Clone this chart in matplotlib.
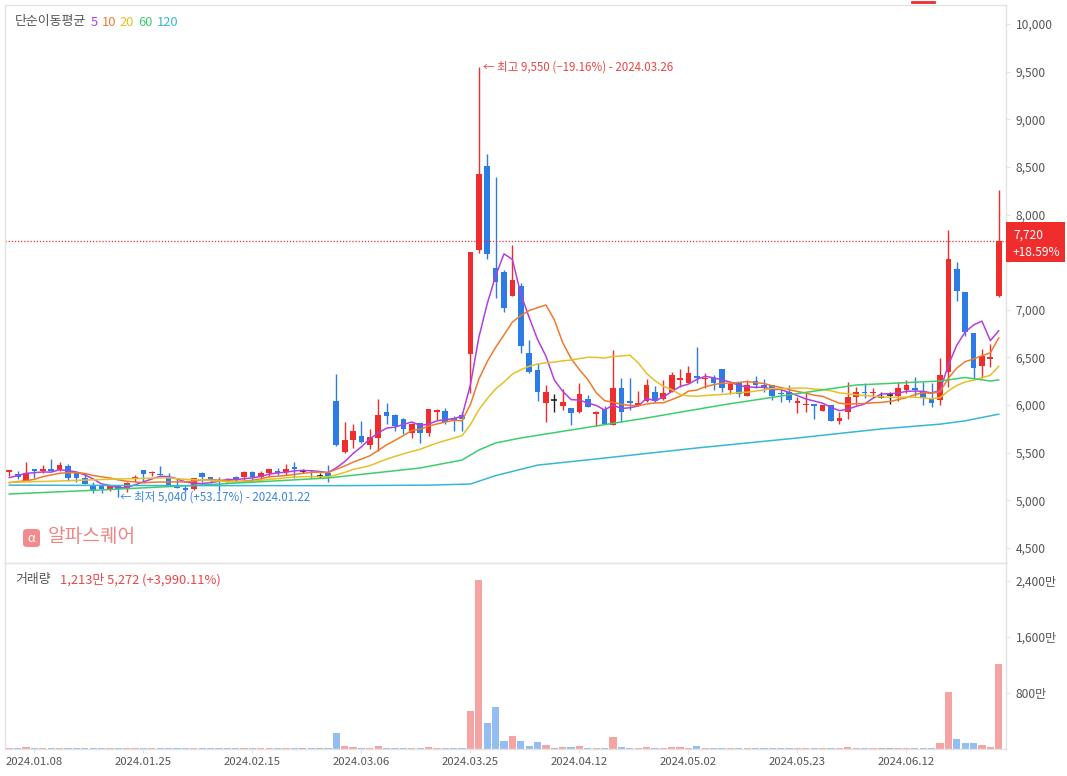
import matplotlib
matplotlib.use('Agg')
import matplotlib.pyplot as plt
from matplotlib.patches import FancyBboxPatch
import numpy as np

plt.rcParams['font.family'] = ['Noto Sans CJK KR', 'DejaVu Sans']

W, H = 1067, 776

# daily candles, index 0 = 2024.01.03 ... 118 = 2024.06.27
opens = [5300, 5275, 5207, 5326, 5310, 5326, 5319, 5365, 5290, 5240,
         5160, 5155, 5115, 5155, 5115, 5230, 5319, 5285, 5282, 5250,
         5140, 5128, 5120, 5285, 5250, 5215, 5215, 5250, 5250, 5295,
         5250, 5285, 5310, 5300, 5355, 5310, 5320, 5255, 5290, 6045,
         5512, 5634, 5676, 5582, 5659, 5925, 5897, 5851, 5711, 5816,
         5711, 5932, 5939, 5862, 5897, 6537, 7630, 8510, 7436, 7401,
         7149, 7250, 6544, 6369, 6026, 6054, 5991, 5967, 5931, 6060,
         5907, 5956, 5791, 6176, 6043, 6001, 6046, 6141, 6060, 6141,
         6263, 6235, 6305, 6270, 6288, 6375, 6158, 6235, 6099, 6253,
         6211, 6211, 6130, 6141, 6018, 6000, 6011, 5942, 6000, 5837,
         5931, 6088, 6141, 6123, 6088, 6106, 6095, 6158, 6176, 6142,
         6065, 6050, 6352, 7426, 7184, 6754, 6411, 6485, 7149]
highs = [5320, 5310, 5403, 5326, 5375, 5435, 5400, 5380, 5290, 5290,
         5195, 5160, 5160, 5160, 5190, 5265, 5320, 5310, 5365, 5290,
         5225, 5160, 5235, 5300, 5250, 5250, 5240, 5255, 5305, 5305,
         5305, 5325, 5345, 5380, 5400, 5330, 5320, 5290, 5370, 6327,
         5827, 5802, 5834, 5750, 6065, 6026, 5907, 5862, 5809, 5816,
         5960, 5956, 5974, 5886, 5925, 7610, 9550, 8636, 8398, 7418,
         7681, 7278, 6684, 6439, 6212, 6117, 6166, 5967, 6228, 6106,
         5942, 5991, 6578, 6281, 6281, 6151, 6270, 6200, 6263, 6351,
         6375, 6410, 6613, 6340, 6316, 6375, 6246, 6246, 6263, 6305,
         6270, 6211, 6176, 6211, 6088, 6130, 6011, 6001, 6001, 5931,
         6246, 6186, 6235, 6176, 6141, 6141, 6246, 6263, 6298, 6246,
         6236, 6492, 7838, 7506, 7184, 6754, 6586, 6642, 8258]
lows = [5255, 5220, 5200, 5240, 5284, 5310, 5310, 5207, 5190, 5170,
        5080, 5075, 5095, 5040, 5090, 5190, 5190, 5255, 5262, 5165,
        5125, 5090, 5110, 5190, 5190, 5100, 5180, 5195, 5215, 5200,
        5200, 5250, 5265, 5265, 5230, 5285, 5240, 5240, 5190, 5575,
        5502, 5547, 5606, 5537, 5523, 5802, 5732, 5697, 5652, 5606,
        5680, 5844, 5799, 5732, 5732, 6125, 7600, 7530, 7121, 6981,
        7149, 6544, 6341, 6047, 5827, 5932, 5949, 5792, 5921, 5977,
        5781, 5798, 5791, 5826, 5949, 5991, 6036, 6026, 6053, 6141,
        6193, 6228, 6228, 6176, 6158, 6141, 6116, 6088, 6099, 6176,
        6141, 6053, 6036, 6036, 5913, 5931, 5851, 5942, 5837, 5802,
        5851, 6001, 6071, 6071, 6071, 6011, 6046, 6123, 6095, 6001,
        5984, 6002, 6194, 7097, 6730, 6271, 6282, 6404, 7139]
closes = [5320, 5250, 5284, 5312, 5326, 5312, 5375, 5240, 5240, 5172,
          5100, 5115, 5155, 5115, 5186, 5245, 5275, 5300, 5262, 5165,
          5130, 5110, 5235, 5245, 5210, 5205, 5205, 5225, 5295, 5250,
          5285, 5325, 5290, 5325, 5325, 5310, 5305, 5255, 5260, 5580,
          5634, 5729, 5613, 5669, 5897, 5886, 5781, 5750, 5802, 5711,
          5960, 5949, 5820, 5844, 5855, 7610, 8430, 7586, 7296, 7016,
          7313, 6624, 6351, 6142, 6142, 6054, 6037, 5914, 6116, 5984,
          5931, 5798, 6176, 5931, 6026, 6019, 6211, 6043, 6123, 6316,
          6281, 6340, 6288, 6288, 6235, 6176, 6221, 6113, 6211, 6211,
          6186, 6099, 6113, 6053, 6046, 6011, 5991, 6001, 5837, 5868,
          6088, 6141, 6123, 6141, 6088, 6106, 6176, 6211, 6158, 6072,
          6019, 6317, 7534, 7202, 6764, 6387, 6520, 6510, 7720]
# volume in 만 (10,000 shares)
volumes = [14, 12, 22, 12, 14, 16, 18, 14, 10, 12,
           16, 12, 10, 14, 18, 20, 16, 10, 12, 14,
           10, 10, 20, 12, 10, 14, 10, 10, 14, 12,
           12, 14, 12, 14, 16, 8, 10, 8, 14, 221,
           35, 25, 20, 15, 35, 20, 15, 12, 15, 12,
           25, 15, 15, 12, 15, 543, 2414, 371, 600, 114,
           190, 114, 48, 100, 62, 16, 33, 33, 48, 16,
           16, 10, 176, 33, 16, 16, 30, 20, 18, 25,
           22, 20, 40, 15, 18, 20, 15, 14, 15, 12,
           12, 14, 12, 12, 14, 16, 14, 12, 18, 12,
           25, 20, 14, 12, 10, 12, 16, 18, 14, 12,
           15, 83, 811, 136, 79, 79, 50, 29.7, 1213.5]

# MA lines for the part before enough history is shown
ma5_head = [5239, 5260, 5284, 5291]
ma10_head = [5186, 5197, 5207, 5221, 5249, 5267, 5284, 5291, 5291]
ma20_head = [5190, 5192, 5194, 5197, 5199, 5201, 5204, 5207, 5210, 5213,
             5216, 5219, 5222, 5225, 5227, 5229, 5231, 5234, 5236]
ma60_idx = [0, 11, 23, 38, 49, 54, 56, 58, 61, 70, 76, 85, 92, 101, 111, 114, 117, 118]
ma60_val = [5067, 5110, 5162, 5235, 5340, 5424, 5529, 5603, 5655, 5781,
            5865, 6001, 6095, 6211, 6253, 6290, 6253, 6264]
ma120_idx = [0, 20, 40, 50, 55, 58, 63, 70, 82, 94, 104, 111, 114, 118]
ma120_val = [5160, 5155, 5155, 5160, 5172, 5260, 5370, 5435, 5550, 5655,
             5750, 5800, 5835, 5905]

date_idx = [3, 16, 29, 42, 55, 68, 81, 94, 107]
date_labels = ['2024.01.08', '2024.01.25', '2024.02.15', '2024.03.06', '2024.03.25',
               '2024.04.12', '2024.05.02', '2024.05.23', '2024.06.12']

RED, BLUE = '#ef2d2d', '#2d7be5'
VRED, VBLUE, VGRAY = '#f5a3a3', '#94bdf3', '#b0b0b0'
MA_COLORS = {5: '#b43fe0', 10: '#ef7a2c', 20: '#e6c125', 60: '#3cce6c', 120: '#38b6d6'}
GRID = '#e3e3e3'
TXT = '#555555'


def moving_avg(vals, n, head):
    out = list(head)
    for i in range(len(head), len(vals)):
        out.append(np.mean(vals[i - n + 1:i + 1]))
    return out


def px(x, y):
    return x / W, 1 - y / H


fig = plt.figure(figsize=(W / 100, H / 100), dpi=100)
ax = fig.add_axes([5 / W, 1 - 563 / H, 1001 / W, 558 / H])
axv = fig.add_axes([5 / W, 1 - 749 / H, 1001 / W, 186 / H], sharex=ax)

n = len(closes)
xs = np.arange(n)
for i in xs:
    o, h, l, c = opens[i], highs[i], lows[i], closes[i]
    col = RED if c > o else (BLUE if c < o else '#222222')
    ax.vlines(i, l, h, color=col, lw=1)
    if c == o:
        ax.hlines(c, i - 0.36, i + 0.36, color=col, lw=1.2)
    else:
        ax.bar(i, max(abs(c - o), 12), bottom=min(o, c), width=0.68, color=col, lw=0)
    vcol = VRED if c > o else (VBLUE if c < o else VGRAY)
    axv.bar(i, volumes[i], width=0.86, color=vcol, lw=0)

ax.plot(xs, moving_avg(closes, 5, ma5_head), color=MA_COLORS[5], lw=1.1, zorder=3)
ax.plot(xs, moving_avg(closes, 10, ma10_head), color=MA_COLORS[10], lw=1.1, zorder=3)
ax.plot(xs, moving_avg(closes, 20, ma20_head), color=MA_COLORS[20], lw=1.1, zorder=3)
ax.plot(ma60_idx, ma60_val, color=MA_COLORS[60], lw=1.1, zorder=3)
ax.plot(ma120_idx, ma120_val, color=MA_COLORS[120], lw=1.1, zorder=3)

ax.set_xlim(-0.513, 118.87)
ax.set_ylim(4343, 10199)
axv.set_ylim(-1, 2656)

# current price line
last = closes[-1]
ax.axhline(last, color=RED, lw=0.9, ls=(0, (1, 1.5)))

for a in (ax, axv):
    for s in a.spines.values():
        s.set_color(GRID)
        s.set_linewidth(1)
    a.yaxis.tick_right()
    a.tick_params(axis='y', colors=GRID, labelcolor=TXT, labelsize=8.6, length=3, pad=4)

# the 7,500 label sits under the current price tag, so it is left blank
price_ticks = list(range(4500, 10001, 500))
ax.set_yticks(price_ticks)
ax.set_yticklabels(['' if v == 7500 else f'{v:,}' for v in price_ticks])
ax.tick_params(axis='x', bottom=False, labelbottom=False)
axv.set_yticks([800, 1600, 2400])
axv.set_yticklabels(['800만', '1,600만', '2,400만'])
axv.set_xticks(date_idx)
axv.set_xticklabels(date_labels)
axv.tick_params(axis='x', colors=GRID, labelcolor=TXT, labelsize=8.2, length=3, pad=3)

# high / low markers
hi_i = int(np.argmax(highs))
lo_i = int(np.argmin(lows))
ax.annotate(f'← 최고 {highs[hi_i]:,} (−19.16%) - 2024.03.26', xy=(hi_i, highs[hi_i]),
            xytext=(3, 0), textcoords='offset points', va='center', ha='left',
            color='#ec4545', fontsize=8.3)
ax.annotate(f'← 최저 {lows[lo_i]:,} (+53.17%) - 2024.01.22', xy=(lo_i, lows[lo_i]),
            xytext=(1, 0), textcoords='offset points', va='center', ha='left',
            color='#3a85e6', fontsize=8.3)

# legend text
x0 = 15
for txt, col in [('단순이동평균', TXT), ('5', MA_COLORS[5]), ('10', MA_COLORS[10]),
                 ('20', MA_COLORS[20]), ('60', MA_COLORS[60]), ('120', MA_COLORS[120])]:
    t = fig.text(*px(x0, 22), txt, color=col, fontsize=9.3, va='center', ha='left')
    fig.canvas.draw()
    x0 = t.get_window_extent().x1 + 4

# volume header
fig.text(*px(15, 580), '거래량', color=TXT, fontsize=9.3, va='center', ha='left')
fig.text(*px(60, 580), '1,213만 5,272 (+3,990.11%)', color='#ec4545', fontsize=9.3,
         va='center', ha='left')

# watermark
logo = FancyBboxPatch(px(23, 547), 17 / W, 18 / H, boxstyle='round,pad=0.0,rounding_size=0.004',
                      transform=fig.transFigure, facecolor='#f28b8b', edgecolor='none')
fig.patches.append(logo)
fig.text(*px(31.5, 538), 'α', color='white', fontsize=9, ha='center', va='center')
fig.text(*px(48, 537), '알파스퀘어', color='#f08585', fontsize=13.8, ha='left', va='center')

# current price tag
tag = FancyBboxPatch(px(1006, 262), 59 / W, 40 / H, boxstyle='square,pad=0',
                     transform=fig.transFigure, facecolor=RED, edgecolor='none')
fig.patches.append(tag)
fig.text(*px(1013, 235), f'{last:,}', color='white', fontsize=8.6, ha='left', va='center',
         fontweight='medium')
fig.text(*px(1013, 253), '+18.59%', color='white', fontsize=8.6, ha='left', va='center',
         fontweight='medium')

# top scroll mark
fig.add_artist(plt.Line2D([912 / W, 934 / W], [1 - 1.5 / H, 1 - 1.5 / H], color=RED, lw=2,
                          transform=fig.transFigure))

fig.savefig('out.png', dpi=100)
